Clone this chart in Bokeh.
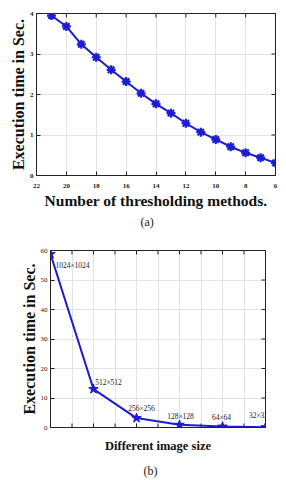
import math
from bokeh.plotting import figure
from bokeh.models import Title, ColumnDataSource, FixedTicker, Range1d
from bokeh.embed import file_html
from bokeh.resources import INLINE

# ---- data (a) ----
methods = [21, 20, 19, 18, 17, 16, 15, 14, 13, 12, 11, 10, 9, 8, 7, 6]
time_a = [3.95, 3.68, 3.24, 2.92, 2.61, 2.32, 2.03, 1.77, 1.54, 1.29, 1.07, 0.89, 0.71, 0.56, 0.44, 0.31]
xticks_a = [22, 20, 18, 16, 14, 12, 10, 8, 6]
yticks_a = [0, 1, 2, 3, 4]

# ---- data (b) ----
size_labels = ["1024\u00d71024", "512\u00d7512", "256\u00d7256", "128\u00d7128", "64\u00d764", "32\u00d732"]
size_pos = [1, 2, 3, 4, 5, 6]
time_b = [58.8, 13.0, 3.2, 0.9, 0.3, 0.1]
xticks_b = [1, 1.5, 2, 2.5, 3, 3.5, 4, 4.5, 5, 5.5, 6]
yticks_b = [0, 10, 20, 30, 40, 50, 60]

# label offsets (style)
lab_dx = [22, 15, 5, 1, -1, -7]
lab_dy = [11, -7, -10, -8, -9, -12]

BLUE = "#1c1cd0"
SERIF = "Liberation Serif"
GRID = "#e3e3e3"
DARK = "#222222"


def style_axis(ax, bold_ticks, tick_size):
    ax.major_tick_in = 4
    ax.major_tick_out = 0
    ax.minor_tick_line_color = None
    ax.axis_line_color = DARK
    ax.major_tick_line_color = DARK
    ax.major_label_text_font = SERIF
    ax.major_label_text_font_style = "bold" if bold_ticks else "normal"
    ax.major_label_text_font_size = tick_size
    ax.major_label_text_color = DARK
    ax.axis_label_text_font = SERIF
    ax.axis_label_text_font_style = "bold"
    ax.axis_label_text_color = "#111111"


def inner_ticks(p, xs, ys, vertical):
    # short tick marks inside the frame box (clipped to frame, so only inner half shows)
    p.scatter(xs, ys, marker="dash", size=8, line_width=1, line_color=DARK,
              angle=(math.pi / 2 if vertical else 0))


# ---------------- figure (a) ----------------
p1 = figure(frame_width=239, frame_height=162, x_range=Range1d(22, 6), y_range=Range1d(0, 4),
            output_backend="svg", toolbar_location=None,
            min_border_left=36, min_border_right=3, min_border_top=13, min_border_bottom=55)
p1.xaxis.ticker = FixedTicker(ticks=xticks_a)
p1.yaxis.ticker = FixedTicker(ticks=yticks_a)
style_axis(p1.xaxis[0], True, "7px")
style_axis(p1.yaxis[0], True, "7px")
p1.xaxis.axis_label = "Number of thresholding methods."
p1.xaxis.axis_label_text_font_size = "15.5px"
p1.xaxis.major_label_standoff = 8
p1.xaxis.axis_label_standoff = 1
p1.yaxis.axis_label = "Execution time in Sec."
p1.yaxis.axis_label_text_font_size = "16px"
p1.yaxis.major_label_standoff = 3
p1.yaxis.axis_label_standoff = 0
p1.xgrid.grid_line_color = GRID
p1.ygrid.grid_line_color = GRID
p1.outline_line_color = DARK
inner_ticks(p1, [p1.x_range.end] * len(yticks_a), yticks_a, False)
inner_ticks(p1, xticks_a, [p1.y_range.end] * len(xticks_a), True)
p1.line(methods, time_a, line_width=2, color=BLUE)
p1.scatter(methods, time_a, marker="asterisk", size=9, line_width=2.2, color=BLUE)
p1.add_layout(Title(text="(a)", align="left", offset=104, standoff=2, text_font=SERIF,
                    text_font_size="12px", text_font_style="normal", text_color=DARK), "below")

# ---------------- figure (b) ----------------
p2 = figure(frame_width=215, frame_height=177, x_range=Range1d(1, 6), y_range=Range1d(0, 60),
            output_backend="svg", toolbar_location=None,
            min_border_left=50, min_border_right=13, min_border_top=20, min_border_bottom=40)
p2.xaxis.ticker = FixedTicker(ticks=[])
p2.xgrid.ticker = FixedTicker(ticks=xticks_b)
p2.yaxis.ticker = FixedTicker(ticks=yticks_b)
style_axis(p2.xaxis[0], False, "7px")
style_axis(p2.yaxis[0], False, "7px")
p2.xaxis.axis_label = "Different image size"
p2.xaxis.axis_label_text_font_size = "12.5px"
p2.xaxis.axis_label_standoff = 11
p2.yaxis.axis_label = "Execution time in Sec."
p2.yaxis.axis_label_text_font_size = "16px"
p2.yaxis.major_label_standoff = 3
p2.yaxis.axis_label_standoff = 0
p2.xgrid.grid_line_color = GRID
p2.ygrid.grid_line_color = GRID
p2.outline_line_color = DARK
inner_ticks(p2, [p2.x_range.end] * len(yticks_b), yticks_b, False)
inner_ticks(p2, xticks_b, [p2.y_range.end] * len(xticks_b), True)
inner_ticks(p2, xticks_b, [p2.y_range.start] * len(xticks_b), True)
src = ColumnDataSource(dict(x=size_pos, y=time_b, t=size_labels, dx=lab_dx, dy=lab_dy))
p2.line("x", "y", source=src, line_width=2, color=BLUE)
p2.scatter("x", "y", source=src, marker="star", size=10, color=BLUE)
p2.text("x", "y", text="t", source=src, x_offset="dx", y_offset="dy",
        text_align="center", text_baseline="middle", text_font_size="7.5px",
        text_font={"value": SERIF}, text_color=DARK)
p2.add_layout(Title(text="(b)", align="left", offset=93, standoff=12, text_font=SERIF,
                    text_font_size="12px", text_font_style="normal", text_color=DARK), "below")

open("out.html", "w").write(file_html([p1, p2], INLINE))
